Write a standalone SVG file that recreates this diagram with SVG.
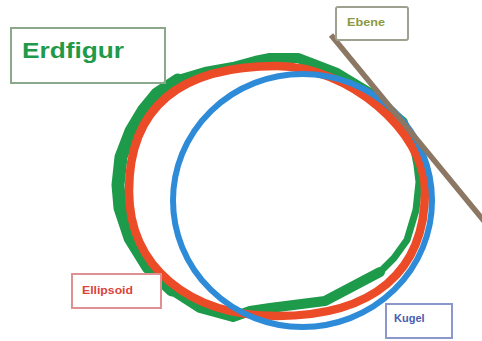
<svg xmlns="http://www.w3.org/2000/svg" width="482" height="341" viewBox="0 0 482 341">
<style>
.box{stroke-width:2}
.lbl{font-family:"Liberation Sans",Arial,sans-serif;font-weight:bold}
.g{fill:none;stroke:#1e9a4b;stroke-linejoin:round;stroke-linecap:round}
</style>
<rect width="482" height="341" fill="#fff"/>
<g id="erdfigur-shape">
<polygon class="g" stroke-width="7" points="233,67 255,61 270,58 298,58 337,73 370,93 404,121 413,145 417,165 419,182 416,210 407,240 394,258 380,272 325,301 270,308 250,311 233,317 200,308 172,290 148,267 130,238 120,208 118,185 121,157 131,131 143,111 157,94 178,80 205,72"/>
<polyline class="g" stroke-width="10" points="370,93 337,73 298,58 270,58 255,61 233,67 205,72 178,80 157,94 143,111 131,131 121,157 118,185 120,208 130,238 148,267 172,290 200,308 233,317 250,311 270,308 325,301 380,272"/>
<polyline class="g" stroke-width="13" points="178,80 157,94 143,111 131,131 121,157 118,185 120,208 130,238 148,267 172,290"/>
</g>
<g id="ellipsoid-shape">
<path d="M277,66 C348,66 425,131 425,191 C425,272 373,316 277,316 C188,316 129,266 129,191 C129,108 178,66 277,66 Z" fill="none" stroke="#ec4b28" stroke-width="8.5"/>
</g>
<g id="kugel-shape">
<ellipse cx="302.5" cy="200.5" rx="129.5" ry="126.5" fill="none" stroke="#2e8bd8" stroke-width="6"/>
</g>
<g id="connectors">
<line x1="331" y1="35" x2="484" y2="221" stroke="#8b7763" stroke-width="5.5"/>
</g>
<g id="erdfigur">
<rect class="box" x="11" y="28" width="154" height="55" fill="none" stroke="#8aa88c"/>
<text class="lbl" x="22" y="58" font-size="22" textLength="102" lengthAdjust="spacingAndGlyphs" fill="#1f9a4a">Erdfigur</text>
</g>
<g id="ebene">
<rect class="box" x="336" y="7" width="72" height="33" rx="2" stroke="#a0a090" fill="#fff"/>
<text class="lbl" x="347" y="26" font-size="11" textLength="38" lengthAdjust="spacingAndGlyphs" fill="#8a9a40">Ebene</text>
</g>
<g id="ellipsoid">
<rect class="box" x="72" y="274" width="89" height="34" stroke="#e09090" fill="#fff"/>
<text class="lbl" x="82" y="294" font-size="11.5" textLength="51" lengthAdjust="spacingAndGlyphs" fill="#d9443c">Ellipsoid</text>
</g>
<g id="kugel">
<rect class="box" x="386" y="304" width="66" height="34" stroke="#8c98cc" fill="#fff"/>
<text class="lbl" x="394" y="322" font-size="11" fill="#4a5bb0">Kugel</text>
</g>
</svg>
